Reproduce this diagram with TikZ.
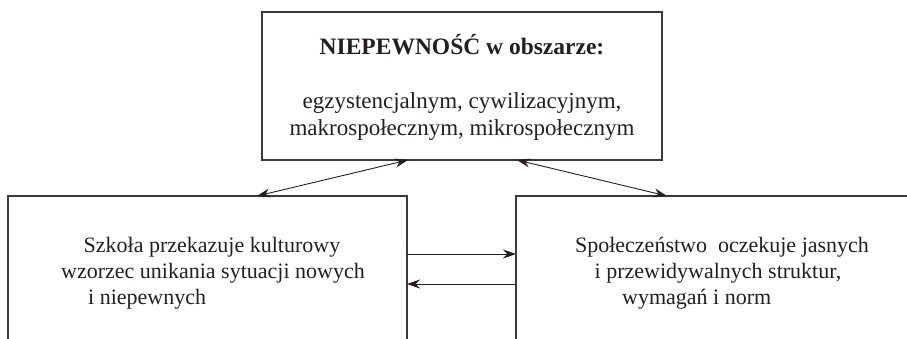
\documentclass[tikz,border=0pt]{standalone}
\usepackage{fontspec}
\setmainfont{Liberation Serif}
\usetikzlibrary{arrows.meta}
\definecolor{ink}{HTML}{231F20}
\definecolor{rule}{HTML}{3A3A3A}
\begin{document}
\begin{tikzpicture}[x=1pt,y=-1pt,
  frame/.style={draw=rule, line width=1.3pt, inner sep=0pt, outer sep=0pt, rectangle},
  tip/.style={Stealth[length=13pt,width=9pt]},
  twoway/.style={draw=ink, line width=0.9pt, {Stealth[length=13pt,width=9pt]}-{Stealth[length=13pt,width=9pt]}},
  oneway/.style={draw=ink, line width=0.9pt, -{Stealth[length=13pt,width=9pt]}},
  txt/.style={text=ink, font=\fontsize{22}{26}\selectfont, inner sep=0pt, anchor=base},
  toptxt/.style={txt, font=\fontsize{23}{27}\selectfont},
  ltxt/.style={txt, anchor=base west}]
\useasboundingbox (0,0) rectangle (907,339);
\clip (0,0) rectangle (907,339);

% boxes: the two lower ones run on past the bottom edge
\node[frame, minimum width=400pt, minimum height=148pt] (top) at (462,86) {};
\node[frame, minimum width=399pt, minimum height=200pt] (school) at (207.5,296) {};
\node[frame, minimum width=400pt, minimum height=200pt] (society) at (716,296) {};

% top box text
\node[toptxt, font=\fontsize{23.5}{27}\selectfont\bfseries] (title) at (462,55) {NIEPEWNOŚĆ w obszarze:};
\node[toptxt] (areaA) at (462,109) {egzystencjalnym, cywilizacyjnym,};
\node[toptxt] (areaB) at (462,136) {makrospołecznym, mikrospołecznym};

% left box text
\node[txt] (schA) at (212,252) {Szkoła przekazuje kulturowy};
\node[txt] (schB) at (213,278) {wzorzec unikania sytuacji nowych};
\node[ltxt] (schC) at (88,304) {i niepewnych};

% right box text
\node[txt] (socA) at (722,252) {Społeczeństwo\ \ oczekuje jasnych};
\node[txt] (socB) at (718,278) {i przewidywalnych struktur,};
\node[ltxt] (socC) at (622,304) {wymagań i norm};

% connectors
\coordinate (topL) at ([xshift=-54pt]top.south);
\coordinate (topR) at ([xshift=55pt]top.south);
\coordinate (schT) at ([xshift=-150pt]school.north east);
\coordinate (socT) at ([xshift=151pt]society.north west);
\draw[twoway] (schT) -- (topL);
\draw[twoway] (topR) -- (socT);

\coordinate (schE1) at ([yshift=-58pt]school.north east);
\coordinate (schE2) at ([yshift=-88pt]school.north east);
\coordinate (socW1) at ([yshift=-58pt]society.north west);
\coordinate (socW2) at ([yshift=-88pt]society.north west);
\draw[oneway] (schE1) -- (socW1);
\draw[oneway] (socW2) -- (schE2);
\end{tikzpicture}
\end{document}
